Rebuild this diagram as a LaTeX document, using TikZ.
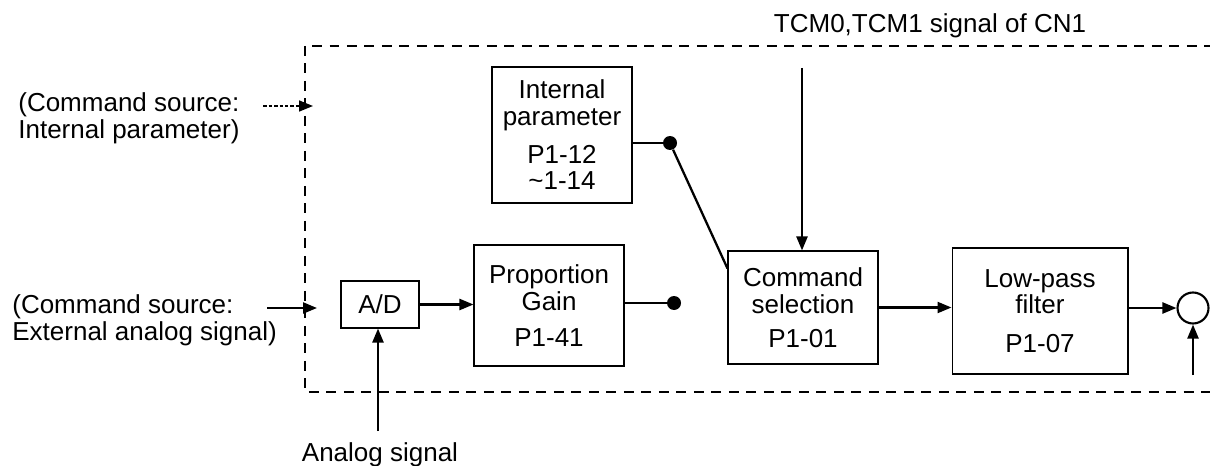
\documentclass[tikz,border=0pt]{standalone}
\usepackage{fontspec}
\setmainfont{Liberation Sans}
\usetikzlibrary{arrows.meta}

\begin{document}
\begin{tikzpicture}[
    x=0.02cm, y=-0.02cm,
    >={Triangle[length=0.28cm,width=0.22cm]},
    font=\fontsize{14.8}{15.2}\selectfont,
    % Standard styles for blocks, signal lines and the dashed frame
    blockbox/.style={draw, line width=0.6pt, align=center, inner sep=2pt},
    sigline/.style={line width=1.3pt},
    frameline/.style={line width=1.2pt, dash pattern=on 0.2cm off 0.15cm},
    junction/.style={circle, fill, inner sep=0pt, minimum size=0.28cm}
]

% ==========================================
% === FRAME PARAMETERS (picture pixels) ===
% ==========================================
\def\frameL{305}   % left edge of the dashed frame
\def\frameT{46}    % top edge
\def\frameB{392}   % bottom edge
\def\frameR{1210}  % right edge (open)
% ==========================================

\useasboundingbox (0,0) rectangle (1210,466);

% --- Dashed frame (open to the right) ---
\draw[frameline] (312,\frameT) -- (\frameR,\frameT);
\draw[frameline] (\frameL,\frameT) -- (\frameL,\frameB) -- (\frameR,\frameB);

% --- Blocks ---
\node[blockbox, minimum width=2.8cm, minimum height=2.72cm] (intpar) at (562,135)
    {Internal\\parameter\\[0.22cm]P1-12\\\textasciitilde1-14};
\node[blockbox, minimum width=1.56cm, minimum height=0.94cm] (ad) at (380,304.5) {A/D};
\node[blockbox, minimum width=3.0cm, minimum height=2.42cm] (propgain) at (549,305.5)
    {Proportion\\Gain\\[0.18cm]P1-41};
\node[blockbox, minimum width=3.0cm, minimum height=2.26cm] (cmdsel) at (803,307.5)
    {Command\\selection\\[0.14cm]P1-01};
\node[blockbox, minimum width=3.52cm, minimum height=2.52cm] (lpf) at (1040,311)
    {Low-pass\\filter\\[0.24cm]P1-07};
\node[draw, circle, line width=1.2pt, minimum size=0.62cm, inner sep=0pt] (summer) at (1193,308) {};

% --- Switch contacts ---
\node[junction] (dotI) at (670,143) {};
\node[junction] (dotP) at (674,303) {};

% --- Texts ---
\node[anchor=west, align=left, inner sep=0pt] (srcint) at (18,118.5)
    {(Command source:\\Internal parameter)};
\node[anchor=west, align=left, inner sep=0pt] (srcext) at (12,320)
    {(Command source:\\External analog signal)};
\node[inner sep=0pt] (tcm) at (930,26) {TCM0,TCM1 signal of CN1};
\node[inner sep=0pt] (analog) at (380,455) {Analog signal};

% --- Free ends of the connectors ---
\coordinate (intIn0) at (263,106);
\coordinate (intIn1) at (313,106);
\coordinate (extIn0) at (267,308);
\coordinate (extIn1) at (317,308);
\coordinate (tcmTop) at (802,68);
\coordinate (anaBot) at (378,431);
\coordinate (sumBot) at (1193,375);
\coordinate (contact) at ([yshift=-0.36cm]cmdsel.north west);

% --- Input arrows from the left ---
\draw[->, line width=0.9pt, dash pattern=on 0.07cm off 0.04cm] (intIn0) -- (intIn1);
\draw[->, sigline] (extIn0) -- (extIn1);

% --- Signal path ---
\draw[->, sigline] (ad.east) -- (ad.east -| propgain.west);
\draw[sigline] (propgain.east |- dotP) -- (dotP);
\draw[sigline] (intpar.east |- dotI) -- (dotI);
\draw[sigline] (dotI) -- (contact);
\draw[->, sigline] (cmdsel.east) -- (cmdsel.east -| lpf.west);
\draw[->, sigline] (lpf.east |- summer.west) -- (summer.west);

% --- Vertical arrows ---
\draw[->, sigline] (tcmTop) -- (tcmTop |- cmdsel.north);
\draw[->, sigline] (anaBot) -- (anaBot |- ad.south);
\draw[->, sigline] (sumBot) -- (summer.south);

\end{tikzpicture}
\end{document}
